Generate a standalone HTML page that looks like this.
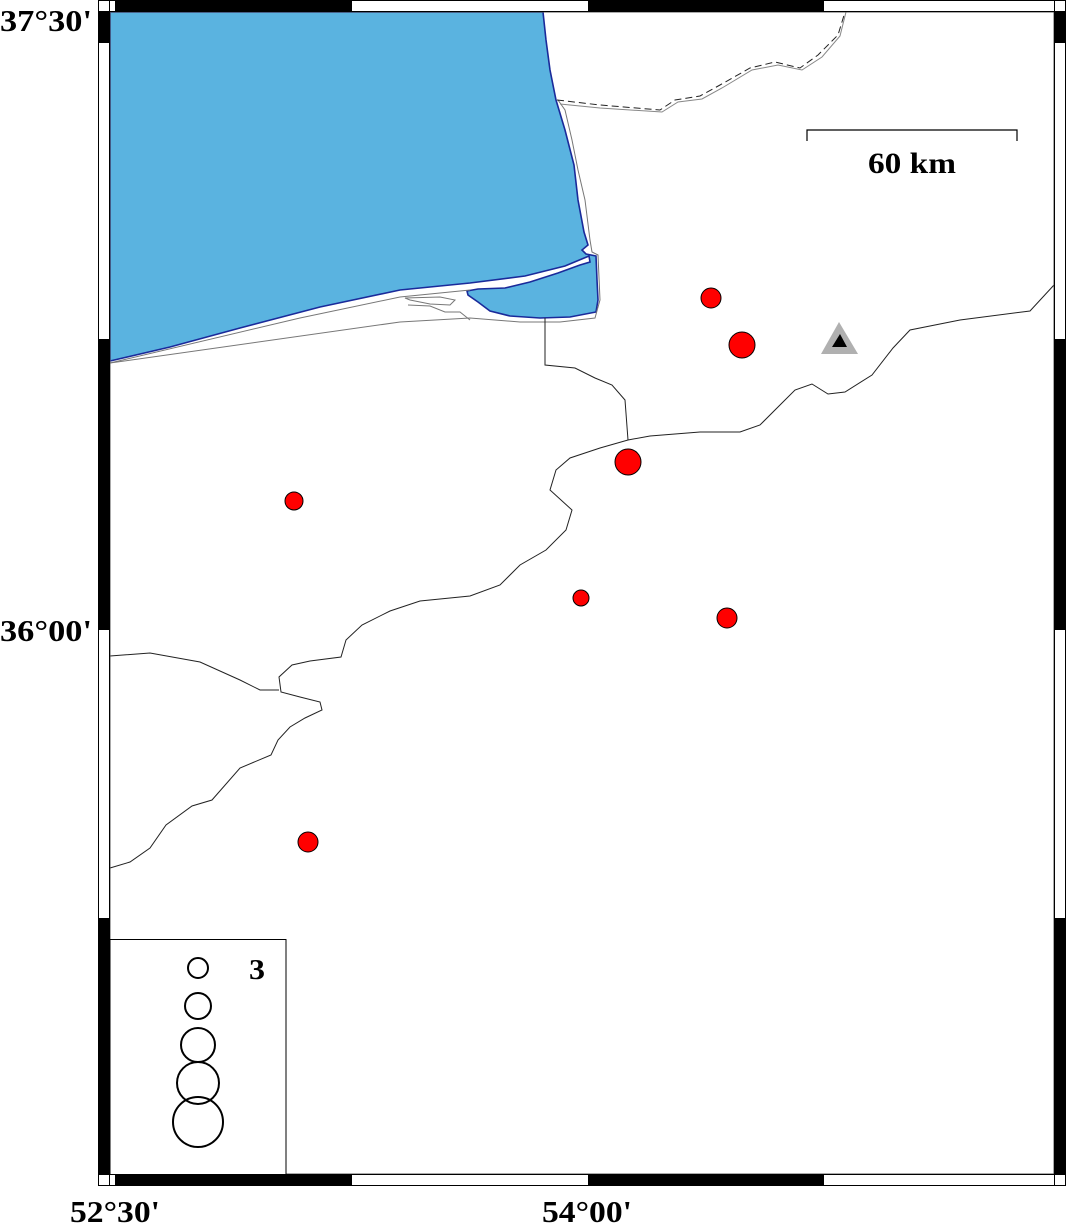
<!DOCTYPE html>
<html><head><meta charset="utf-8"><style>
html,body{margin:0;padding:0;background:#fff;}
svg{display:block;}
text{font-family:"Liberation Serif","DejaVu Serif",serif;font-weight:700;fill:#000;}
</style></head><body>
<svg width="1066" height="1224" viewBox="0 0 1066 1224" xmlns="http://www.w3.org/2000/svg">
<rect width="1066" height="1224" fill="#fff"/>
<path d="M110,12 L543,12 L546,40 L550,70 L556,100 L565,130 L574,165 L578,200 L584,232 L588,245 L582,250 L586,254 L596,256 L597,280 L598,300 L596,312 L570,317 L540,318 L510,316 L490,311 L478,302 L468,295 L467,291 L478,289 L505,288 L530,282 L558,273 L580,265 L590,262 L589,256 L565,266 L525,276 L470,283 L400,290 L320,307 L240,328 L170,347 L110,361 Z" fill="#5ab3e0" stroke="#1a2a9a" stroke-width="1.6"/>
<g fill="none" stroke="#777" stroke-width="1">
<path d="M110,363 L300,318 L400,297 L470,290"/>
<path d="M110,363 L400,322 L470,318 L520,322 L560,322 L595,318 L600,300 L598,255 L592,252 L590,240 L585,200 L578,170 L572,140 L565,110 L558,100"/>
<path d="M405,298 L440,297 L455,300 L450,305 L430,304 L410,300 Z"/>
<path d="M408,305 L430,306 L445,312 L460,312 L470,320"/>
</g>
<g fill="none" stroke="#222" stroke-width="1">
<path d="M545,318 L545,365 L575,368 L595,378 L612,385 L625,400 L628,440"/>
<path d="M1054,285 L1030,311 L960,320 L910,330 L893,348 L872,375 L845,392 L828,394 L812,384 L795,390 L780,405 L760,425 L740,432 L700,432 L650,436 L628,440 L600,448 L570,458 L556,470 L550,490 L572,510 L566,530 L546,550 L520,565 L500,585 L470,596 L420,601 L390,611 L362,625 L346,640 L341,657 L310,661 L292,665 L279,677 L281,692 L300,697 L320,702 L322,710 L305,718 L290,727 L278,740 L271,755 L240,768 L212,800 L192,806 L166,825 L150,848 L130,862 L110,868"/>
<path d="M110,656 L150,653 L200,662 L240,680 L260,690 L279,690"/>
<path d="M557,100 L600,105 L660,110 L675,100 L700,96 L720,85 L750,68 L775,62 L800,68 L818,55 L838,35 L845,12" stroke-dasharray="7,4"/>
<path d="M560,104 L600,108 L662,112 L678,102 L702,99 L722,88 L752,70 L778,65 L802,70 L822,57 L840,36 L846,12" stroke="#888"/>
</g>
<rect x="98.5" y="0.5" width="967" height="1185" fill="none" stroke="#000" stroke-width="1"/>
<rect x="110" y="12" width="944" height="1162" fill="none" stroke="#555" stroke-width="1"/>
<g fill="#000">
<rect x="116" y="1" width="236" height="10"/>
<rect x="588" y="1" width="236" height="10"/>
<rect x="116" y="1175" width="236" height="10"/>
<rect x="588" y="1175" width="236" height="10"/>
<rect x="99" y="12" width="10" height="31"/>
<rect x="99" y="339" width="10" height="291"/>
<rect x="99" y="918" width="10" height="256"/>
<rect x="1055" y="12" width="10" height="31"/>
<rect x="1055" y="339" width="10" height="291"/>
<rect x="1055" y="918" width="10" height="256"/>
</g>
<g fill="none" stroke="#000" stroke-width="1">
<line x1="98" y1="11.5" x2="1066" y2="11.5"/>
<line x1="98" y1="1174.5" x2="1066" y2="1174.5"/>
<line x1="109.5" y1="0" x2="109.5" y2="1186"/>
<line x1="1054.5" y1="0" x2="1054.5" y2="1186"/>
<line x1="115.5" y1="0" x2="115.5" y2="12"/>
<line x1="115.5" y1="1174" x2="115.5" y2="1186"/>
</g>
<g fill="#f00" stroke="#000" stroke-width="1">
<circle cx="711" cy="298" r="10"/>
<circle cx="742" cy="345" r="13"/>
<circle cx="628" cy="462" r="13"/>
<circle cx="294" cy="501" r="9"/>
<circle cx="581" cy="598" r="8"/>
<circle cx="727" cy="618" r="10"/>
<circle cx="308" cy="842" r="10"/>
</g>
<polygon points="839,322 858,354 821,354" fill="#b0b0b0"/>
<polygon points="840,334 847,347 832,347" fill="#000"/>
<path d="M807,141 L807,130 L1017,130 L1017,141" fill="none" stroke="#000" stroke-width="1.2"/>
<text x="868" y="173" font-size="30" textLength="88" lengthAdjust="spacingAndGlyphs">60 km</text>
<rect x="110" y="939.5" width="176" height="235" fill="#fff" stroke="#000" stroke-width="1"/>
<g fill="none" stroke="#000" stroke-width="2">
<circle cx="198" cy="968" r="10"/>
<circle cx="198" cy="1006" r="13"/>
<circle cx="198" cy="1045" r="17"/>
<circle cx="198" cy="1083" r="21"/>
<circle cx="198" cy="1122" r="25"/>
</g>
<text x="249" y="979" font-size="28" textLength="16" lengthAdjust="spacingAndGlyphs">3</text>
<text x="0" y="31" font-size="31" textLength="92" lengthAdjust="spacingAndGlyphs">37°30'</text>
<text x="0" y="641" font-size="31" textLength="92" lengthAdjust="spacingAndGlyphs">36°00'</text>
<text x="70" y="1222" font-size="31" textLength="90" lengthAdjust="spacingAndGlyphs">52°30'</text>
<text x="542" y="1222" font-size="31" textLength="90" lengthAdjust="spacingAndGlyphs">54°00'</text>
</svg>
</body></html>
